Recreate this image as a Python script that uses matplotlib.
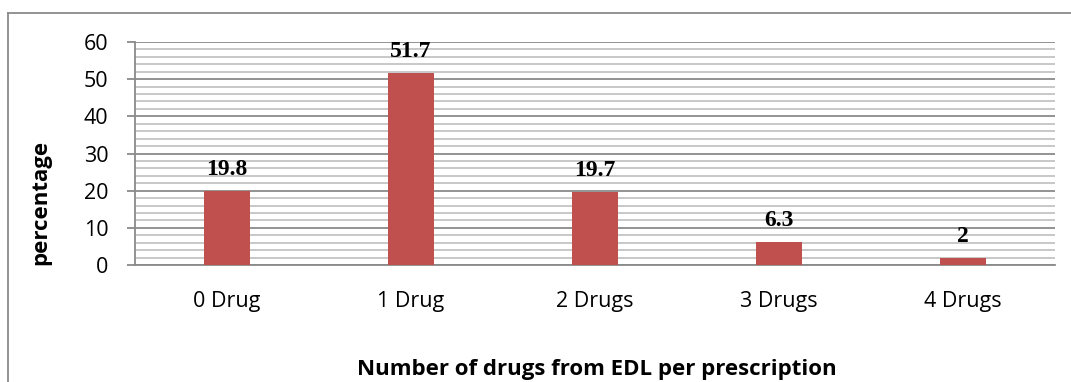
import matplotlib
matplotlib.use("Agg")
import matplotlib.pyplot as plt
from matplotlib.ticker import MultipleLocator
from matplotlib.lines import Line2D

categories = ["0 Drug", "1 Drug", "2 Drugs", "3 Drugs", "4 Drugs"]
values = [19.8, 51.7, 19.7, 6.3, 2]
value_labels = ["19.8", "51.7", "19.7", "6.3", "2"]

W, H = 1071, 382
fig = plt.figure(figsize=(W / 100, H / 100), dpi=100)
ax = fig.add_axes([135 / W, 1 - 265 / H, (1055 - 135) / W, (265 - 42) / H])

sans = ["Open Sans", "DejaVu Sans"]
serif = ["Liberation Serif", "DejaVu Serif"]

x = list(range(len(categories)))
ax.bar(x, values, width=0.25, color="#C0504D", zorder=3)
ax.set_xlim(-0.5, len(categories) - 0.5)
ax.set_ylim(0, 60)

ax.yaxis.set_major_locator(MultipleLocator(10))
ax.yaxis.set_minor_locator(MultipleLocator(2))
ax.grid(which="minor", axis="y", color="#C4C4C4", linewidth=1.3, zorder=0)
ax.grid(which="major", axis="y", color="#8A8A8A", linewidth=1.3, zorder=1)

for s in ["top", "right"]:
    ax.spines[s].set_visible(False)
ax.spines["left"].set_color("#8A8A8A")
ax.spines["bottom"].set_color("#8A8A8A")
ax.spines["left"].set_linewidth(1.3)
ax.spines["bottom"].set_linewidth(1.3)

ax.tick_params(axis="y", which="major", length=6, color="#8A8A8A", width=1.3, pad=13)
ax.tick_params(axis="y", which="minor", length=0)
ax.tick_params(axis="x", length=0, pad=19)
ax.set_xticks(x)
ax.set_xticklabels(categories, fontfamily=sans, fontsize=15.5)
for lbl in ax.get_yticklabels():
    lbl.set_fontfamily(sans)
    lbl.set_fontsize(15.5)

for xi, v, t in zip(x, values, value_labels):
    ax.annotate(t, (xi, v), xytext=(0, 11.5), textcoords="offset points",
                ha="center", va="baseline", fontfamily=serif, fontweight="bold",
                fontsize=17)

fig.text(41 / W, 1 - 202 / H, "percentage", rotation=90, ha="center", va="center",
         fontfamily=sans, fontweight="bold", fontsize=16)
fig.text(597 / W, 1 - 369 / H, "Number of drugs from EDL per prescription",
         ha="center", va="center", fontfamily=sans, fontweight="bold", fontsize=16)

# outer chart border (top and left visible)
fig.add_artist(Line2D([8 / W, 8 / W], [0, 1 - 13 / H], transform=fig.transFigure,
                      color="#8A8A8A", linewidth=1.3))
fig.add_artist(Line2D([8 / W, 1], [1 - 13 / H, 1 - 13 / H], transform=fig.transFigure,
                      color="#8A8A8A", linewidth=1.3))

fig.savefig("out.png", dpi=100)
